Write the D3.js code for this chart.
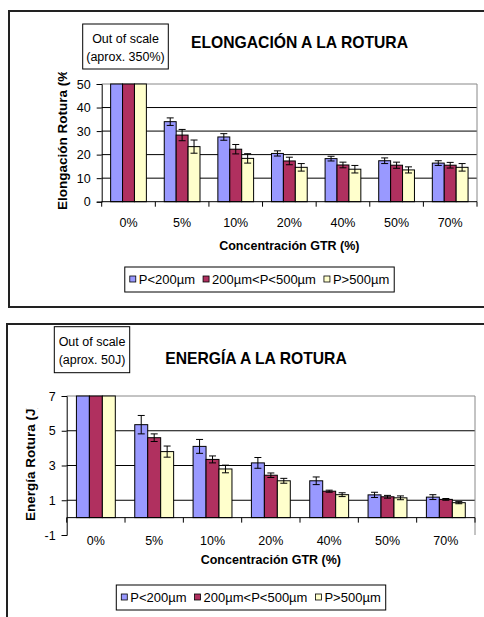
<!DOCTYPE html>
<html>
<head>
    <script src="https://cdn.jsdelivr.net/npm/d3@7"></script>
    <style>
        body { margin: 0; background: #fff; }
        svg text { font-family: "Liberation Sans", Arial, sans-serif; fill: #000; }
    </style>
</head>
<body>
    <div id="chart"></div>
    <script>
        // categories and series
        const categories = ["0%", "5%", "10%", "20%", "40%", "50%", "70%"]
        const seriesNames = ["P<200µm", "200µm<P<500µm", "P>500µm"]
        const seriesColors = ["#9999FF", "#B0305F", "#FFFFCC"]

        // elongation at break (%), first group is out of scale (~350%)
        const elongSmall = [350, 34, 27.5, 20.5, 18.3, 17.4, 16.4]
        const elongMid = [350, 28.3, 22.3, 17.3, 15.6, 15.5, 15.5]
        const elongLarge = [350, 23.4, 18.4, 14.6, 13.8, 13.5, 14.6]
        const elongErrSmall = [0, 1.6, 1.4, 1.1, 1.0, 1.2, 1.0]
        const elongErrMid = [0, 2.4, 2.0, 1.6, 1.2, 1.3, 1.2]
        const elongErrLarge = [0, 2.8, 2.0, 1.6, 1.6, 1.3, 1.6]
        const elongTicks = [0, 10, 20, 30, 40, 50]

        // energy at break (J), first group is out of scale (~50J)
        const energySmall = [50, 5.35, 4.1, 3.15, 2.12, 1.31, 1.18]
        const energyMid = [50, 4.6, 3.35, 2.44, 1.52, 1.2, 1.05]
        const energyLarge = [50, 3.8, 2.8, 2.12, 1.32, 1.14, 0.86]
        const energyErrSmall = [0, 0.53, 0.4, 0.31, 0.22, 0.15, 0.14]
        const energyErrMid = [0, 0.22, 0.2, 0.13, 0.06, 0.08, 0.05]
        const energyErrLarge = [0, 0.32, 0.22, 0.14, 0.11, 0.11, 0.06]
        const energyTicks = [-1, 1, 3, 5, 7]

        const svg = d3.select("#chart").append("svg")
            .attr("width", 484)
            .attr("height", 617)

        const drawChart = (cfg) => {
            const g = svg.append("g")

            // chart frame
            g.append("rect")
                .attr("x", cfg.frame[0]).attr("y", cfg.frame[1])
                .attr("width", cfg.frame[2]).attr("height", cfg.frame[3])
                .attr("fill", "none").attr("stroke", "#222").attr("stroke-width", 2)

            const x = d3.scaleBand().domain(categories).range([cfg.left, cfg.right])
            const x1 = d3.scaleBand().domain(seriesNames).range([0, x.bandwidth()])
                .paddingOuter(0.75).paddingInner(0)
            const y = d3.scaleLinear().domain(cfg.yDomain).range([cfg.bottom, cfg.top]).clamp(true)

            // gridlines
            g.selectAll(".grid")
                .data(cfg.ticks.filter(t => t > 0 && t < cfg.yDomain[1]))
                .enter().append("line")
                .attr("x1", cfg.left).attr("x2", cfg.right)
                .attr("y1", d => y(d)).attr("y2", d => y(d))
                .attr("stroke", "#000")

            // plot area border (top and right)
            g.append("path")
                .attr("d", `M${cfg.left},${y(cfg.yDomain[1])}H${cfg.right}V${cfg.bottom}`)
                .attr("fill", "none").attr("stroke", "#888")

            // bars
            const groups = g.selectAll(".grp")
                .data(categories)
                .enter().append("g")
                .attr("transform", d => `translate(${x(d)},0)`)

            const rows = (c, i) => seriesNames.map((s, k) => ({
                s: s, k: k, v: cfg.values[k][i], e: cfg.errors[k][i]
            }))

            groups.selectAll("rect")
                .data(rows)
                .enter().append("rect")
                .attr("x", d => x1(d.s))
                .attr("y", d => y(d.v))
                .attr("width", x1.bandwidth())
                .attr("height", d => y(0) - y(d.v))
                .attr("fill", d => seriesColors[d.k])
                .attr("stroke", "#000")

            // error bars
            const err = groups.selectAll(".err")
                .data((c, i) => rows(c, i).filter(d => d.e > 0))
                .enter().append("g")
                .attr("stroke", "#000")
            err.append("line")
                .attr("x1", d => x1(d.s) + x1.bandwidth() / 2)
                .attr("x2", d => x1(d.s) + x1.bandwidth() / 2)
                .attr("y1", d => y(d.v - d.e)).attr("y2", d => y(d.v + d.e))
            err.selectAll(".cap")
                .data(d => [d.v - d.e, d.v + d.e].map(v => ({ v: v, s: d.s })))
                .enter().append("line")
                .attr("x1", d => x1(d.s) + x1.bandwidth() / 2 - 3.5)
                .attr("x2", d => x1(d.s) + x1.bandwidth() / 2 + 3.5)
                .attr("y1", d => y(d.v)).attr("y2", d => y(d.v))

            // y axis
            const yAxis = g.append("g")
                .attr("transform", `translate(${cfg.left},0)`)
                .call(d3.axisLeft(y).tickValues(cfg.ticks).tickSize(5).tickPadding(6).tickFormat(d => String(d)))
            yAxis.select(".domain").attr("stroke", "#000")
            yAxis.selectAll("text").style("font-size", "12.5px").attr("font-family", null)

            // category axis at zero
            g.append("line")
                .attr("x1", cfg.left).attr("x2", cfg.right)
                .attr("y1", y(0)).attr("y2", y(0))
                .attr("stroke", "#000")
            g.selectAll(".ctick")
                .data(categories.map(c => x(c)).concat([cfg.right]))
                .enter().append("line")
                .attr("x1", d => d).attr("x2", d => d)
                .attr("y1", y(0)).attr("y2", y(0) + 5)
                .attr("stroke", "#000")
            g.selectAll(".clabel")
                .data(categories)
                .enter().append("text")
                .attr("x", d => x(d) + x.bandwidth() / 2)
                .attr("y", cfg.catLabelY)
                .attr("text-anchor", "middle")
                .style("font-size", "12.5px")
                .text(d => d)

            // axis titles
            g.append("text")
                .attr("x", (cfg.left + cfg.right) / 2)
                .attr("y", cfg.xTitleY)
                .attr("text-anchor", "middle")
                .style("font-size", "12.5px").style("font-weight", "bold")
                .text("Concentración GTR (%)")

            // y title is cut at the top, like in the original sheet
            const clipId = "clip" + cfg.id
            svg.append("clipPath").attr("id", clipId)
                .append("rect")
                .attr("x", 0).attr("y", cfg.yTitleClip)
                .attr("width", 484).attr("height", 617)
            g.append("g")
                .attr("clip-path", `url(#${clipId})`)
                .append("text")
                .attr("transform", `translate(${cfg.yTitleX},${cfg.yTitleStart}) rotate(-90)`)
                .style("font-size", "13.5px").style("font-weight", "bold")
                .text(cfg.yTitle)

            // chart title
            g.append("text")
                .attr("x", cfg.titleX).attr("y", cfg.titleY)
                .attr("text-anchor", "middle")
                .style("font-size", "15.7px").style("font-weight", "bold")
                .text(cfg.title)

            // out of scale note
            const nb = cfg.noteBox
            g.append("rect")
                .attr("x", nb[0]).attr("y", nb[1]).attr("width", nb[2]).attr("height", nb[3])
                .attr("fill", "#fff").attr("stroke", "#000")
            g.selectAll(".note")
                .data(cfg.note)
                .enter().append("text")
                .attr("x", nb[0] + nb[2] / 2)
                .attr("y", (d, i) => nb[1] + 19 + i * 18)
                .attr("text-anchor", "middle")
                .style("font-size", "12.5px")
                .text(d => d)

            // legend
            const leg = g.append("g")
            const items = leg.selectAll(".item")
                .data(seriesNames)
                .enter().append("g")
            items.append("rect")
                .attr("width", 6).attr("height", 6)
                .attr("y", -8)
                .attr("fill", (d, i) => seriesColors[i])
                .attr("stroke", "#000").attr("stroke-width", 0.8)
            items.append("text")
                .attr("x", 9)
                .style("font-size", "13px")
                .text(d => d)
            let pos = 0
            items.each(function () {
                d3.select(this).attr("transform", `translate(${pos},0)`)
                pos += 9 + this.querySelector("text").getComputedTextLength() + 8
            })
            const legW = pos - 8 + 10
            const legX = cfg.legendCx - legW / 2
            leg.attr("transform", `translate(${legX + 5},${cfg.legendY})`)
            leg.insert("rect", ":first-child")
                .attr("x", -5).attr("y", -17)
                .attr("width", legW).attr("height", 25)
                .attr("fill", "#fff").attr("stroke", "#000")
        }

        drawChart({
            id: 1,
            frame: [9, 11, 490, 296],
            left: 101.7, right: 477, top: 84, bottom: 201.7,
            yDomain: [0, 50], ticks: elongTicks,
            values: [elongSmall, elongMid, elongLarge],
            errors: [elongErrSmall, elongErrMid, elongErrLarge],
            catLabelY: 227, xTitleY: 250,
            yTitle: "Elongación Rotura (%)", yTitleX: 66.5, yTitleStart: 210, yTitleClip: 72,
            title: "ELONGACIÓN A LA ROTURA", titleX: 299.5, titleY: 48,
            noteBox: [82.7, 24, 85.6, 45], note: ["Out of scale", "(aprox. 350%)"],
            legendCx: 259.5, legendY: 284
        })

        drawChart({
            id: 2,
            frame: [7, 324, 490, 310],
            left: 66.7, right: 475, top: 396, bottom: 535,
            yDomain: [-1, 7], ticks: energyTicks,
            values: [energySmall, energyMid, energyLarge],
            errors: [energyErrSmall, energyErrMid, energyErrLarge],
            catLabelY: 545, xTitleY: 564,
            yTitle: "Energía Rotura (J)", yTitleX: 34.5, yTitleStart: 521, yTitleClip: 408,
            title: "ENERGÍA A LA ROTURA", titleX: 256, titleY: 364,
            noteBox: [54.3, 326.7, 75.4, 46], note: ["Out of scale", "(aprox. 50J)"],
            legendCx: 251, legendY: 602
        })
    </script>
</body>
</html>
